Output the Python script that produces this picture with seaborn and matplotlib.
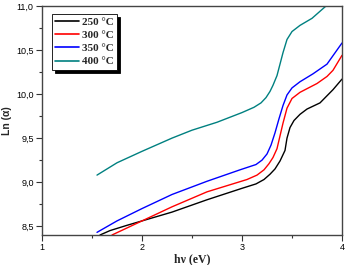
import numpy as np
import pandas as pd
import seaborn as sns
import matplotlib
matplotlib.use("Agg")
import matplotlib.pyplot as plt
from matplotlib.ticker import MultipleLocator, FuncFormatter

# ---- data ----
x_250 = [1.58, 1.68, 1.85, 2.0, 2.3, 2.65, 3.0, 3.14, 3.22, 3.28, 3.33, 3.38, 3.43, 3.45, 3.48, 3.52, 3.58, 3.65, 3.78, 3.91, 4.0]
y_250 = [8.40, 8.45, 8.51, 8.56, 8.66, 8.80, 8.93, 8.98, 9.03, 9.09, 9.15, 9.24, 9.36, 9.50, 9.62, 9.70, 9.77, 9.83, 9.90, 10.05, 10.17]

x_300 = [1.70, 1.85, 2.0, 2.3, 2.65, 3.05, 3.15, 3.22, 3.27, 3.31, 3.35, 3.41, 3.45, 3.50, 3.58, 3.75, 3.85, 3.91, 4.0]
y_300 = [8.40, 8.48, 8.56, 8.72, 8.89, 9.03, 9.08, 9.14, 9.21, 9.28, 9.38, 9.67, 9.84, 9.95, 10.02, 10.12, 10.20, 10.27, 10.44]

x_350 = [1.55, 1.75, 2.0, 2.3, 2.65, 2.98, 3.14, 3.20, 3.25, 3.29, 3.33, 3.37, 3.41, 3.45, 3.50, 3.58, 3.71, 3.85, 4.0]
y_350 = [8.43, 8.56, 8.70, 8.86, 9.01, 9.14, 9.20, 9.25, 9.32, 9.42, 9.56, 9.72, 9.87, 9.99, 10.07, 10.14, 10.23, 10.34, 10.58]

x_400 = [1.55, 1.75, 2.0, 2.3, 2.5, 2.75, 3.0, 3.12, 3.19, 3.24, 3.28, 3.31, 3.35, 3.41, 3.45, 3.50, 3.58, 3.70, 3.83, 3.87]
y_400 = [9.08, 9.22, 9.35, 9.50, 9.59, 9.68, 9.79, 9.85, 9.90, 9.96, 10.03, 10.10, 10.21, 10.47, 10.62, 10.71, 10.78, 10.86, 10.99, 11.03]

labels = ["250 °C", "300 °C", "350 °C", "400 °C"]
colors = ["#000000", "#ff0000", "#0000ff", "#008080"]
x_ticks = [1, 2, 3, 4]
y_ticks = [8.5, 9.0, 9.5, 10.0, 10.5, 11.0]

frames = []
for lab, xs, ys in zip(labels, [x_250, x_300, x_350, x_400], [y_250, y_300, y_350, y_400]):
    frames.append(pd.DataFrame({"hv": xs, "ln": ys, "T": lab}))
df = pd.concat(frames, ignore_index=True)

sns.set_theme(style="white")
plt.rcParams["font.family"] = ["Liberation Sans", "DejaVu Sans"]

fig = plt.figure(figsize=(3.48, 2.65), dpi=100)
ax = fig.add_axes([42/348, 1-235/265, 300/348, 229/265])

sns.lineplot(data=df, x="hv", y="ln", hue="T", hue_order=labels,
             palette=colors, sort=False, estimator=None, lw=1.0, ax=ax)

ax.set_xlim(1, 4)
ax.set_ylim(8.4, 11.0)
ax.set_xticks(x_ticks)
ax.set_yticks(y_ticks)
ax.xaxis.set_minor_locator(MultipleLocator(0.5))
ax.yaxis.set_minor_locator(MultipleLocator(0.25))
ax.xaxis.set_major_formatter(FuncFormatter(lambda v, p: f"{v:g}"))
ax.yaxis.set_major_formatter(FuncFormatter(lambda v, p: f"{v:.1f}".replace(".", ",")))
ax.tick_params(which="both", direction="out", colors="#333333", labelcolor="black",
               labelsize=6.5, width=0.8, top=False, right=False, bottom=True, left=True)
ax.tick_params(which="major", length=4, pad=2)
ax.tick_params(which="minor", length=2.5)
for s in ax.spines.values():
    s.set_color("#444444")
    s.set_linewidth(1.0)

ax.set_xlabel("hν (eV)", fontsize=8.5, fontweight="bold",
              family=["Liberation Serif", "DejaVu Serif"], labelpad=0.5)
ax.set_ylabel("Ln (α)", fontsize=7.5, fontweight="bold", labelpad=3)

leg = ax.legend(loc="upper left", bbox_to_anchor=(10/300, 1-8/229),
                prop={"family": ["Liberation Serif", "DejaVu Serif"], "weight": "bold", "size": 8},
                frameon=True, fancybox=False, shadow={"color": "black", "alpha": 1},
                handlelength=2.1, handletextpad=0.3, labelspacing=0.3,
                borderpad=0.3, borderaxespad=0)
leg.get_frame().set_edgecolor("black")
leg.get_frame().set_linewidth(0.6)
for h in leg.get_lines():
    h.set_linewidth(1.2)

fig.savefig("out.png", dpi=100)
